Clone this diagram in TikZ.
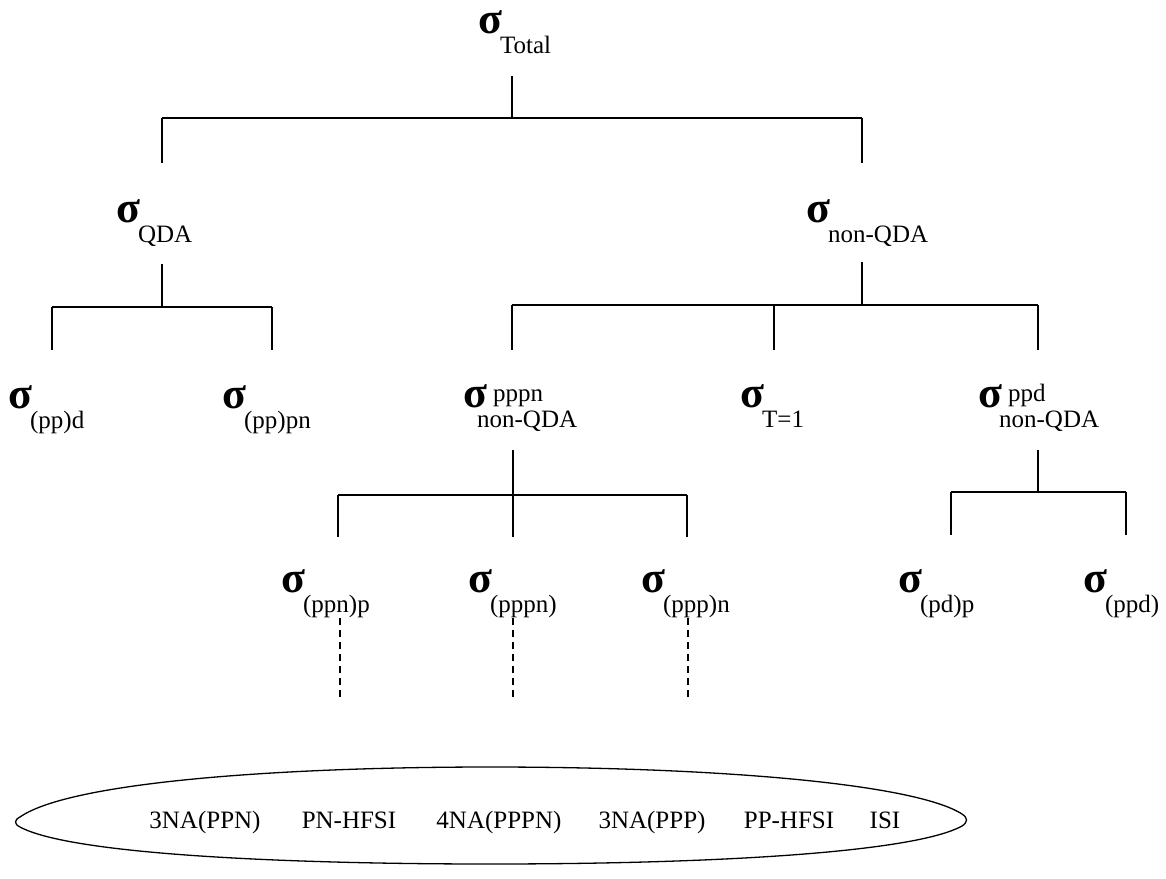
\documentclass[tikz,border=0pt]{standalone}
\usepackage{fontspec}
\setmainfont{Liberation Serif}
\newcommand\sgm{{\fontsize{44}{44}\selectfont\bfseries σ}}
\newcommand\subf{\fontsize{25}{25}\selectfont}
% \lbl[subscript shift]{subscript}{superscript}
\newcommand\lbl[3][0pt]{\rule{0pt}{20pt}\smash{\sgm}%
  \smash{\rlap{\hspace{6pt}\raisebox{6pt}{\subf #3}}\rlap{\hspace{#1}\raisebox{-20pt}{\subf #2}}}%
  \rule[-26pt]{0pt}{26pt}}
\tikzset{
  lab/.style={anchor=base west, inner sep=0pt},
  wire/.style={line width=1.3pt},
  dashwire/.style={line width=1.2pt, dash pattern=on 7pt off 5pt},
  item/.style={anchor=base, inner sep=0pt, font=\fontsize{25}{25}\selectfont},
}
\begin{document}
\begin{tikzpicture}[x=1pt, y=-1pt]
\useasboundingbox (0,0) rectangle (1166,878);

% cross-section labels
\node[lab] (tot) at (478,33)  {\lbl[-2pt]{Total}{}};
\node[lab] (qda) at (116,222) {\lbl[-2pt]{QDA}{}};
\node[lab] (nq)  at (806,222) {\lbl[-2pt]{non-QDA}{}};
\node[lab] (a1)  at (8,408)   {\lbl[-2pt]{(pp)d}{}};
\node[lab] (a2)  at (222,408) {\lbl[-2pt]{(pp)pn}{}};
\node[lab] (b1)  at (463,407) {\lbl[-10pt]{non-QDA}{pppn}};
\node[lab] (b2)  at (740,407) {\lbl[-2pt]{T=1}{}};
\node[lab] (b3)  at (978,407) {\lbl[-3pt]{non-QDA}{ppd}};
\node[lab] (c1)  at (281,592) {\lbl[-2pt]{(ppn)p}{}};
\node[lab] (c2)  at (468,592) {\lbl[-2pt]{(pppn)}{}};
\node[lab] (c3)  at (641,592) {\lbl[-2pt]{(ppp)n}{}};
\node[lab] (c4)  at (898,592) {\lbl[-2pt]{(pd)p}{}};
\node[lab] (c5)  at (1083,592){\lbl[-2pt]{(ppd)}{}};

% bar junctions
\coordinate (j0)  at (512,118);
\coordinate (j0l) at (162,118);
\coordinate (j0r) at (862,118);
\coordinate (j1)  at (162,307);
\coordinate (j1l) at (52,307);
\coordinate (j1r) at (272,307);
\coordinate (j2)  at (862,305);
\coordinate (j2l) at (512,305);
\coordinate (j2m) at (774,305);
\coordinate (j2r) at (1038,305);
\coordinate (j3)  at (513,495);
\coordinate (j3l) at (338,495);
\coordinate (j3r) at (687,495);
\coordinate (j4)  at (1038,492);
\coordinate (j4l) at (951,492);
\coordinate (j4r) at (1126,492);

% total -> QDA / non-QDA
\draw[wire, shorten <=17pt] (tot.south -| j0) -- (j0);
\draw[wire] (j0l) -- (j0r);
\draw[wire, shorten >=39pt] (j0l) -- (j0l |- qda.north);
\draw[wire, shorten >=39pt] (j0r) -- (j0r |- nq.north);

% QDA branch
\draw[wire, shorten <=16pt] (qda.south -| j1) -- (j1);
\draw[wire] (j1l) -- (j1r);
\draw[wire, shorten >=38pt] (j1l) -- (j1l |- a1.north);
\draw[wire, shorten >=38pt] (j1r) -- (j1r |- a2.north);

% non-QDA branch
\draw[wire, shorten <=14pt] (nq.south -| j2) -- (j2);
\draw[wire] (j2l) -- (j2r);
\draw[wire, shorten >=37pt] (j2l) -- (j2l |- b1.north);
\draw[wire, shorten >=37pt] (j2m) -- (j2m |- b2.north);
\draw[wire, shorten >=37pt] (j2r) -- (j2r |- b3.north);

% pppn branch
\draw[wire, shorten <=17pt] (b1.south -| j3) -- (j3);
\draw[wire] (j3l) -- (j3r);
\draw[wire, shorten >=35pt] (j3l) -- (j3l |- c1.north);
\draw[wire, shorten >=35pt] (j3) -- (j3 |- c2.north);
\draw[wire, shorten >=35pt] (j3r) -- (j3r |- c3.north);

% ppd branch
\draw[wire, shorten <=17pt] (b3.south -| j4) -- (j4);
\draw[wire] (j4l) -- (j4r);
\draw[wire, shorten >=37pt] (j4l) -- (j4l |- c4.north);
\draw[wire, shorten >=37pt] (j4r) -- (j4r |- c5.north);

% dashed links down to the mechanisms
\coordinate (d1) at (340,697);
\coordinate (d2) at (513,697);
\coordinate (d3) at (688,697);
\draw[dashwire] (c1.south -| d1) -- (d1);
\draw[dashwire] (c2.south -| d2) -- (d2);
\draw[dashwire] (c3.south -| d3) -- (d3);

% mechanisms enclosure: a lens with blunt tips
\draw[line width=1.3pt] (20,817)
  .. controls (70,782) and (280,767) .. (490,767)
  .. controls (720,767) and (915,784) .. (962,814)
  .. controls (968,818) and (968,822) .. (962,826)
  .. controls (915,852) and (720,864) .. (490,864)
  .. controls (280,864) and (70,854) .. (20,827)
  .. controls (14,824) and (14,820) .. cycle;

\node[item] (m1) at (205,828) {3NA(PPN)};
\node[item] (m2) at (349,828) {PN-HFSI};
\node[item] (m3) at (499,828) {4NA(PPPN)};
\node[item] (m4) at (652,828) {3NA(PPP)};
\node[item] (m5) at (789,828) {PP-HFSI};
\node[item] (m6) at (885,828) {ISI};
\end{tikzpicture}
\end{document}
